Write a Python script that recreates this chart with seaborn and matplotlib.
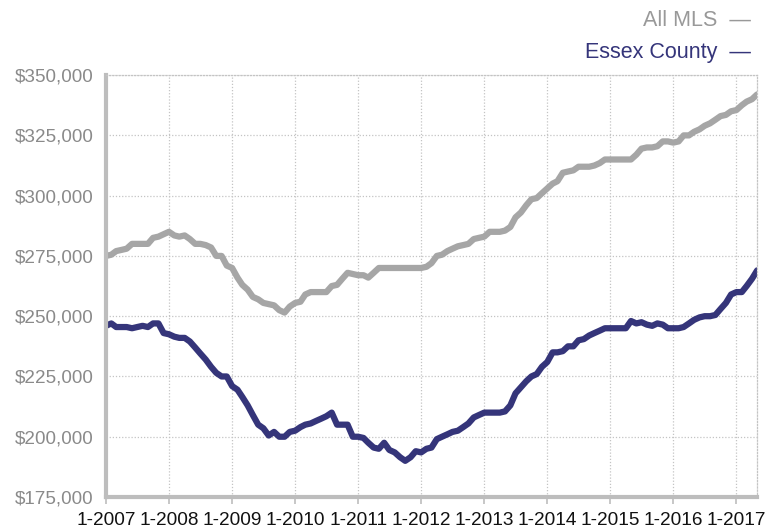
import numpy as np
import pandas as pd
import matplotlib
matplotlib.use("Agg")
import matplotlib.pyplot as plt
import seaborn as sns

# Monthly median price, in thousands of dollars, 1-2007 .. 5-2017
all_mls = [
    275, 275.5, 277, 277.5, 278, 280, 280, 280, 280, 282.5, 283, 284,
    285, 283.5, 283, 283.5, 282, 280, 280, 279.5, 278.5, 275, 275, 271,
    270, 266, 263, 261, 258, 257, 255.5, 255, 254.5, 252.5, 251.5, 254,
    255.5, 256, 259, 260, 260, 260, 260, 262.5, 263, 265.5, 268, 267.5,
    267, 267, 266, 268, 270, 270, 270, 270, 270, 270, 270, 270,
    270, 270.5, 272, 275, 275.5, 277, 278, 279, 279.5, 280, 282, 282.5,
    283, 285, 285, 285, 285.5, 287, 291, 293, 296, 298.5, 299, 301,
    303, 305, 306, 309.5, 310, 310.5, 312, 312, 312, 312.5, 313.5, 315,
    315, 315, 315, 315, 315, 317, 319.5, 320, 320, 320.5, 322.5, 322.5,
    322, 322.5, 325, 325, 326.5, 327.5, 329, 330, 331.5, 333, 333.5, 335,
    335.5, 337.5, 339, 340, 342,
]
essex = [
    246, 247, 245.5, 245.5, 245.5, 245, 245.5, 246, 245.5, 247, 247, 243,
    242.5, 241.5, 241, 241, 239.5, 237, 234.5, 232, 229, 226.5, 225, 225,
    221, 219.5, 216.5, 213, 209, 205, 203.5, 200.5, 202, 200, 200, 202,
    202.5, 204, 205, 205.5, 206.5, 207.5, 208.5, 210, 205, 205, 205, 200,
    200, 199.5, 197.5, 195.5, 195, 197.5, 194.5, 193.5, 191.5, 190, 191.5, 194,
    193.5, 195, 195.5, 199, 200, 201, 202, 202.5, 204, 205.5, 208, 209,
    210, 210, 210, 210, 210.5, 213, 218, 220.5, 223, 225, 226, 229,
    231, 235, 235, 235.5, 237.5, 237.5, 240, 240.5, 242, 243, 244, 245,
    245, 245, 245, 245, 248, 247, 247.5, 246.5, 246, 247, 246.5, 245,
    245, 245, 245.5, 247, 248.5, 249.5, 250, 250, 250.5, 253, 255.5, 259,
    260, 260, 262.5, 265.5, 269,
]
series_names = ["All MLS", "Essex County"]
series_colors = ["#a6a6a6", "#35357a"]
y_ticks = [175000, 200000, 225000, 250000, 275000, 300000, 325000, 350000]
x_tick_years = list(range(2007, 2018))

dates = pd.date_range("2007-01-01", periods=len(all_mls), freq="MS")
df = pd.concat([
    pd.DataFrame({"date": dates, "price": np.array(all_mls) * 1000, "series": series_names[0]}),
    pd.DataFrame({"date": dates, "price": np.array(essex) * 1000, "series": series_names[1]}),
])

sns.set_theme(style="white")
plt.rcParams["font.family"] = ["Liberation Sans", "DejaVu Sans"]

fig = plt.figure(figsize=(7.78, 5.29), dpi=100)
ax = fig.add_axes([0.1362, 0.0605, 0.837, 0.7975])

sns.lineplot(data=df, x="date", y="price", hue="series",
             palette=dict(zip(series_names, series_colors)),
             linewidth=4.5, legend=False, ax=ax, solid_joinstyle="round",
             solid_capstyle="round")

ax.set_xlim(dates[0], dates[-1])
ax.set_ylim(175000, 350000)
ax.set_yticks(y_ticks)
ax.set_yticklabels([f"${v:,.0f}" for v in y_ticks], color="#8a8a8a", fontsize=13.6)
xt = [pd.Timestamp(f"{y}-01-01") for y in x_tick_years]
ax.set_xticks(xt)
ax.set_xticklabels([f"1-{y}" for y in x_tick_years], color="#111111", fontsize=13.7)
ax.set_xlabel("")
ax.set_ylabel("")

ax.grid(True, color="#c4c4c4", linestyle=(0, (1, 1.5)), linewidth=0.9)
ax.set_axisbelow(True)

for s in ["top", "right"]:
    ax.spines[s].set_visible(True)
    ax.spines[s].set_color("#c4c4c4")
    ax.spines[s].set_linestyle((0, (1, 1.5)))
    ax.spines[s].set_linewidth(0.9)
for s in ["left", "bottom"]:
    ax.spines[s].set_color("#bdbdbd")
    ax.spines[s].set_linewidth(3)

ax.tick_params(axis="x", which="major", bottom=True, length=5, width=1.2,
               color="#bdbdbd", pad=6)
ax.tick_params(axis="y", which="major", left=False, pad=3)

fig.text(0.965, 0.962, series_names[0] + "  —", ha="right", va="center",
         color="#999999", fontsize=15.5)
fig.text(0.965, 0.901, series_names[1] + "  —", ha="right", va="center",
         color=series_colors[1], fontsize=15.5)

fig.savefig("out.png", dpi=100)
